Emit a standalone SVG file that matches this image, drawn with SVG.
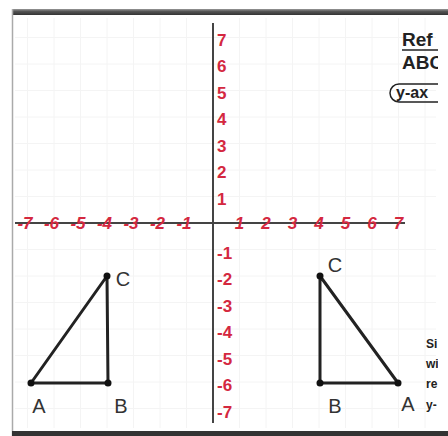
<svg xmlns="http://www.w3.org/2000/svg" width="448" height="436" viewBox="0 0 448 436">
<defs>
<style>
.grid{stroke:#f4f4f4;stroke-width:1}
.axis{stroke:#444;stroke-width:2}
.xl{font-family:"Liberation Sans",Arial,sans-serif;font-size:17px;font-weight:bold;font-style:italic;fill:#d4283f}
.yl{font-family:"Liberation Sans",Arial,sans-serif;font-size:17px;font-weight:bold;fill:#d4283f}
.edge{stroke:#222;stroke-width:3;fill:none;stroke-linecap:round}
.dot{fill:#111}
.vl{font-family:"Liberation Sans",Arial,sans-serif;font-size:20px;fill:#333;text-anchor:middle}
.hd{font-family:"Liberation Sans",Arial,sans-serif;font-size:19px;font-weight:bold;fill:#222}
.sm{font-family:"Liberation Sans",Arial,sans-serif;font-size:12px;font-weight:bold;fill:#222}
</style>
<clipPath id="rc"><rect x="0" y="0" width="438" height="436"/></clipPath>
<linearGradient id="tb" x1="0" y1="0" x2="0" y2="1">
<stop offset="0" stop-color="#999"/><stop offset="0.4" stop-color="#555"/><stop offset="1" stop-color="#333"/>
</linearGradient>
</defs>
<rect width="448" height="436" fill="#fff"/>
<g id="frame">
<rect x="12" y="9" width="436" height="6" fill="url(#tb)"/>
<line x1="12.5" y1="9" x2="12.5" y2="436" stroke="#aaa" stroke-width="1.5"/>
<rect x="12" y="431" width="436" height="5" fill="#333"/>
</g>
<g id="grid" class="grid">
<path d="M27.5 18V428M54 18V428M80.5 18V428M107 18V428M133.5 18V428M160 18V428M186.5 18V428M239.5 18V428M266 18V428M292.5 18V428M319 18V428M345.5 18V428M372 18V428M398.5 18V428M425 18V428"/>
<path d="M15 37.5H436M15 64H436M15 90.5H436M15 117H436M15 143.5H436M15 170H436M15 196.5H436M15 249.5H436M15 276H436M15 302.5H436M15 329H436M15 355.5H436M15 382H436M15 408.5H436"/>
</g>
<g id="axes">
<line class="axis" x1="213" y1="23" x2="213" y2="423"/>
<line class="axis" x1="15" y1="223" x2="405" y2="223"/>
</g>
<g id="x-labels">
<text class="xl" x="239.5" y="229" text-anchor="middle">1</text>
<text class="xl" x="266" y="229" text-anchor="middle">2</text>
<text class="xl" x="292.5" y="229" text-anchor="middle">3</text>
<text class="xl" x="319" y="229" text-anchor="middle">4</text>
<text class="xl" x="345.5" y="229" text-anchor="middle">5</text>
<text class="xl" x="372" y="229" text-anchor="middle">6</text>
<text class="xl" x="398.5" y="229" text-anchor="middle">7</text>
<text class="xl" x="191.5" y="229" text-anchor="end">-1</text>
<text class="xl" x="165" y="229" text-anchor="end">-2</text>
<text class="xl" x="138.5" y="229" text-anchor="end">-3</text>
<text class="xl" x="112" y="229" text-anchor="end">-4</text>
<text class="xl" x="85.5" y="229" text-anchor="end">-5</text>
<text class="xl" x="59" y="229" text-anchor="end">-6</text>
<text class="xl" x="32.5" y="229" text-anchor="end">-7</text>
</g>
<g id="y-labels">
<text class="yl" x="217" y="45.5">7</text>
<text class="yl" x="217" y="72">6</text>
<text class="yl" x="217" y="98.5">5</text>
<text class="yl" x="217" y="125">4</text>
<text class="yl" x="217" y="151.5">3</text>
<text class="yl" x="217" y="178">2</text>
<text class="yl" x="217" y="204.5">1</text>
<text class="yl" x="217" y="258.5">-1</text>
<text class="yl" x="217" y="285">-2</text>
<text class="yl" x="217" y="311.5">-3</text>
<text class="yl" x="217" y="338">-4</text>
<text class="yl" x="217" y="364.5">-5</text>
<text class="yl" x="217" y="391">-6</text>
<text class="yl" x="217" y="417.5">-7</text>
</g>
<g id="connectors">
<path class="edge" d="M31 383L107 276M31 383H108M107 276L108 383"/>
<path class="edge" d="M320 276V383M320 383H398M320 276L398 383"/>
</g>
<g id="triangle-abc">
<circle class="dot" cx="31" cy="383" r="3.5"/>
<circle class="dot" cx="108" cy="383" r="3.5"/>
<circle class="dot" cx="107" cy="276" r="3.5"/>
<text class="vl" x="39" y="413">A</text>
<text class="vl" x="121" y="413">B</text>
<text class="vl" x="123" y="286">C</text>
</g>
<g id="triangle-image">
<circle class="dot" cx="320" cy="276" r="3.5"/>
<circle class="dot" cx="320" cy="383" r="3.5"/>
<circle class="dot" cx="398" cy="383" r="3.5"/>
<text class="vl" x="335" y="272">C</text>
<text class="vl" x="335" y="413">B</text>
<text class="vl" x="408" y="411">A</text>
</g>
<g id="side-text" clip-path="url(#rc)">
<text class="hd" x="402" y="46">Ref</text>
<line x1="402" y1="50" x2="448" y2="50" stroke="#222" stroke-width="1.5"/>
<text class="hd" x="402" y="69">ABC</text>
<rect x="390" y="84" width="80" height="18" rx="9" fill="none" stroke="#222" stroke-width="1.5"/>
<text class="hd" x="396" y="98" style="font-size:16px">y-ax</text>
<text class="sm" x="426" y="348">Si</text>
<text class="sm" x="426" y="368">wi</text>
<text class="sm" x="426" y="388">re</text>
<text class="sm" x="426" y="409">y-</text>
</g>
</svg>
